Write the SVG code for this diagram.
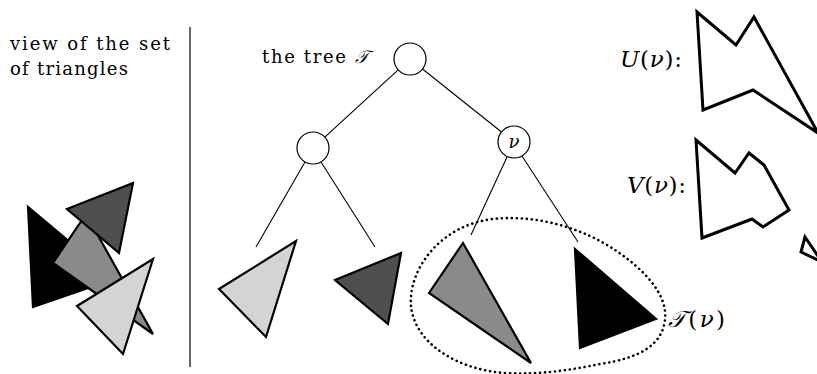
<svg xmlns="http://www.w3.org/2000/svg" width="817" height="374" viewBox="0 0 817 374">
<style>
text{font-family:'DejaVu Serif','Liberation Serif',serif;font-size:18px;fill:#000}
.m{font-style:italic}
.lab{font-size:23px}
.tri{stroke:#000;stroke-width:2.2;stroke-linejoin:miter}
.lg{fill:#d4d4d4}.dg{fill:#4f4f4f}.mg{fill:#8a8a8a}.bk{fill:#000}
.poly{fill:none;stroke:#000;stroke-width:3;stroke-linejoin:miter}
.node{fill:#fff;stroke:#000;stroke-width:1.2}
.edge{stroke:#000;stroke-width:1.1;fill:none}
</style>
<rect width="817" height="374" fill="#fff"/>
<g id="left-panel">
<text x="10" y="50" textLength="160" lengthAdjust="spacing">view of the set</text>
<text x="10" y="75" textLength="118" lengthAdjust="spacing">of triangles</text>
<polygon class="tri bk" points="28,207 33,307 114,279"/>
<polygon class="tri mg" points="53,263 86,214 153,334"/>
<polygon class="tri dg" points="67,209 133,183 119,253"/>
<polygon class="tri lg" points="77,306 153,259 123,354"/>
</g>
<line id="divider" x1="190" y1="27" x2="190" y2="367" stroke="#000" stroke-width="1.2"/>
<g id="connectors">
<line class="edge" x1="398.2" y1="69.8" x2="324.8" y2="137.2"/>
<line class="edge" x1="422.5" y1="69" x2="501.5" y2="132"/>
<line class="edge" x1="305" y1="162" x2="256" y2="247"/>
<line class="edge" x1="321" y1="162" x2="375" y2="247"/>
<line class="edge" x1="507" y1="157" x2="471" y2="235"/>
<line class="edge" x1="522" y1="156" x2="578" y2="242"/>
</g>
<text x="262" y="63" textLength="84" lengthAdjust="spacing">the tree</text>
<text x="355" y="63" class="m" font-size="20">𝒯</text>
<g id="root"><circle class="node" cx="410" cy="59" r="16"/></g>
<g id="left-child"><circle class="node" cx="313" cy="148" r="16"/></g>
<g id="nu"><circle class="node" cx="514" cy="142" r="16"/><text x="514" y="148" class="m" font-size="21" text-anchor="middle">ν</text></g>
<g id="leaf1"><polygon class="tri lg" points="219,289 296,241 266,337"/></g>
<g id="leaf2"><polygon class="tri dg" points="335,280 401,253 388,324"/></g>
<g id="leaf3"><polygon class="tri mg" points="429,293 463,243 531,363"/></g>
<g id="leaf4"><polygon class="tri bk" points="575,249 656,319 580,348"/></g>
<g id="subtree">
<path d="M411,306 C408,270 440,225 493,219 C540,214 585,230 615,250 C645,270 668,295 665,320 C662,345 640,358 600,364 C570,370 540,375 505,373 C460,370 415,345 411,306 Z" fill="none" stroke="#000" stroke-width="2.6" stroke-linecap="round" stroke-dasharray="0.1 4.9"/>
<text x="668" y="327" class="lab" textLength="57" lengthAdjust="spacing"><tspan class="m">𝒯</tspan>(<tspan class="m">ν</tspan>)</text>
</g>
<g id="U">
<text x="620" y="67" class="lab" textLength="62" lengthAdjust="spacing"><tspan class="m">U</tspan>(<tspan class="m">ν</tspan>):</text>
<polygon class="poly" points="697,12 736,45 754,17 818,133 753,90 703,110"/>
</g>
<g id="V">
<text x="627" y="193" class="lab" textLength="59" lengthAdjust="spacing"><tspan class="m">V</tspan>(<tspan class="m">ν</tspan>):</text>
<polygon class="poly" points="696,140 735,173 749,153 764,165 789,210 763,227 752,219 702,238"/>
</g>
<polygon class="poly" points="805,237 801,252 822,262"/>
</svg>
